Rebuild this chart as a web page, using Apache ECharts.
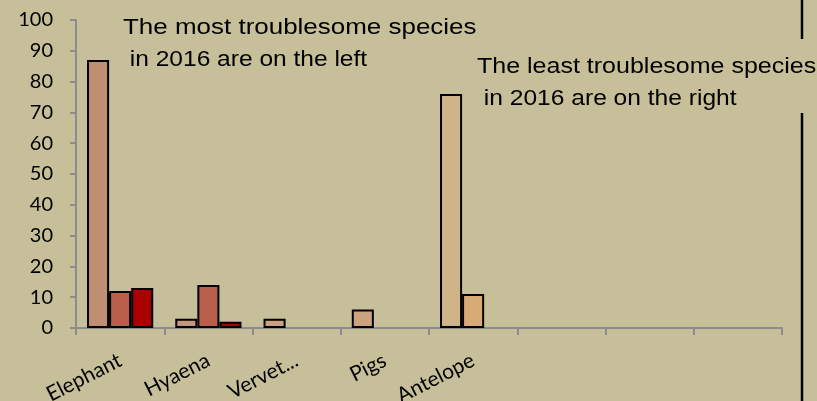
<!DOCTYPE html>
<html>
<head>
<meta charset="utf-8">
<script src="https://cdn.jsdelivr.net/npm/echarts@6/dist/echarts.min.js"></script>
<style>
html,body{margin:0;padding:0;background:#C6BF99;}
#chart{width:817px;height:401px;}
</style>
</head>
<body>
<div id="chart"></div>
<script>
var categories = ['Elephant', 'Hyaena', 'Vervet...', 'Pigs', 'Antelope', '', '', ''];
var series1 = [87, 3, 3, 6, 76, null, null, null];
var series2 = [12, 14, null, null, 11, null, null, null];
var series3 = [13, 2, null, null, null, null, null, null];
var yTicks = [0, 10, 20, 30, 40, 50, 60, 70, 80, 90, 100];
var noteLeft = ['The most troublesome species', ' in 2016 are on the left'];
var noteRight = ['The least troublesome species', ' in 2016 are on the right'];

var colors1 = ['#C08E72', '#C4967A', '#CCA37E', '#CCA37E', '#CEB486', '#CEB486', '#CEB486', '#CEB486'];
var colors2 = ['#B8604C', '#B8604C', '#B8604C', '#B8604C', '#D8AA76', '#D8AA76', '#D8AA76', '#D8AA76'];
var colors3 = ['#AA0000', '#AA0000', '#AA0000', '#AA0000', '#AA0000', '#AA0000', '#AA0000', '#AA0000'];

function build(vals, cols) {
  return vals.map(function (v, i) {
    return { value: v, itemStyle: { color: cols[i] } };
  });
}

var barStyle = { borderColor: '#000000', borderWidth: 2 };
var axisFont = 'Lato';

function note(text, x, y, sx) {
  return {
    type: 'text', x: x, y: y, scaleX: sx, silent: true,
    style: { text: text, x: 0, y: 0, fill: '#000', font: '22px "Liberation Sans"', textAlign: 'left', textVerticalAlign: 'middle' }
  };
}

var chart = echarts.init(document.getElementById('chart'), null, { renderer: 'canvas' });
chart.setOption({
  backgroundColor: '#C6BF99',
  animation: false,
  grid: { left: 76, right: 35, top: 20, bottom: 73, containLabel: false, outerBoundsMode: 'none' },
  xAxis: {
    type: 'category',
    data: categories,
    boundaryGap: true,
    axisLine: { lineStyle: { color: '#8C8C8C', width: 2 } },
    axisTick: { show: true, alignWithLabel: false, length: 7, lineStyle: { color: '#8C8C8C', width: 2 } },
    axisLabel: { rotate: 27, margin: 31, color: '#000000', fontSize: 21, fontFamily: axisFont, interval: 0 }
  },
  yAxis: {
    type: 'value',
    min: yTicks[0],
    max: yTicks[yTicks.length - 1],
    interval: 10,
    splitLine: { show: false },
    axisLine: { show: true, lineStyle: { color: '#8C8C8C', width: 2 } },
    axisTick: { show: true, length: 6, lineStyle: { color: '#8C8C8C', width: 2 } },
    axisLabel: { margin: 23, color: '#000000', fontSize: 20, fontFamily: axisFont }
  },
  series: [
    { type: 'bar', data: build(series1, colors1), barGap: '0%', barCategoryGap: '25%', itemStyle: barStyle },
    { type: 'bar', data: build(series2, colors2), barGap: '0%', barCategoryGap: '25%', itemStyle: barStyle },
    { type: 'bar', data: build(series3, colors3), barGap: '0%', barCategoryGap: '25%', itemStyle: barStyle }
  ],
  graphic: [
    { type: 'line', shape: { x1: 802, y1: 0, x2: 802, y2: 39 }, style: { stroke: '#000', lineWidth: 2.5 }, silent: true },
    { type: 'line', shape: { x1: 802, y1: 113, x2: 802, y2: 401 }, style: { stroke: '#000', lineWidth: 2.5 }, silent: true },
    note(noteLeft[0], 123, 27.5, 1.18),
    note(noteLeft[1], 123, 60, 1.115),
    note(noteRight[0], 477, 66.5, 1.137),
    note(noteRight[1], 477, 98.5, 1.117)
  ]
});
</script>
</body>
</html>
